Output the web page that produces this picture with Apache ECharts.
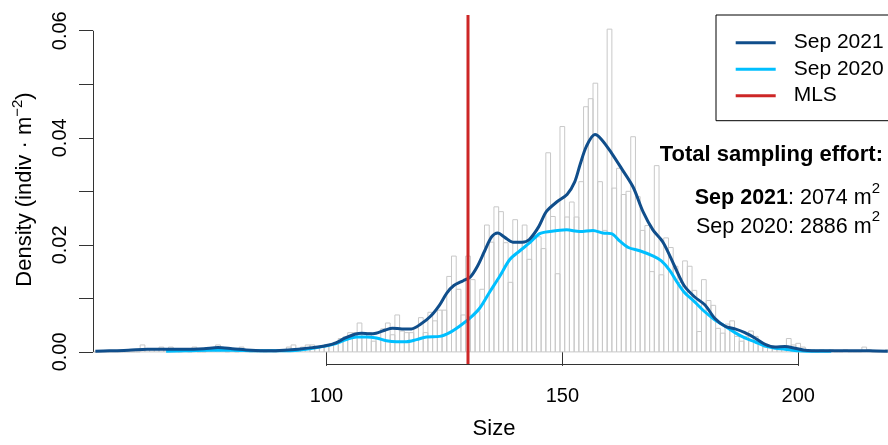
<!DOCTYPE html>
<html>
<head>
<meta charset="utf-8">
<script src="https://cdn.jsdelivr.net/npm/echarts@6/dist/echarts.min.js"></script>
<style>html,body{margin:0;padding:0;background:#fff}#c{width:888px;height:445px}</style>
</head>
<body>
<div id="c"></div>
<script>
// ---------- data ----------
const histStart = 51; // first bin centre (bins are 1 unit wide)
const histDensity = [
  0,0,0,0,0,0,0,0,0,0,                                   // 51-60
  0.0013,0.0004,0.0004,0.0004,0.0009,0.0004,0.0009,0.0004,0,0.0004, // 61-70
  0,0.0009,0,0,0.0004,0.0004,0.0013,0.0004,0,0.0004,     // 71-80
  0,0.0009,0.0004,0,0,0.0004,0,0.0004,0,0.0004,          // 81-90
  0.0004,0.0009,0.0013,0.0004,0.0009,0.0013,0.0013,0.0009,0.0009,0.0013, // 91-100
  0.0013,0.0018,0.0025,0.0028,0.0036,0.0036,0.0054,0.0036,0.0036,0.0020, // 101-110
  0.0027,0.0043,0.0054,0.0032,0.0069,0.0039,0.0036,0.0036,0.0045,0.0064, // 111-120
  0.0036,0.0074,0.0058,0.0078,0.0078,0.0141,0.0179,0.0117,0.0069,0.0179, // 121-130
  0.0135,0.0075,0.0117,0.0237,0.0205,0.0271,0.0262,0.0204,0.0130,0.0247, // 131-140
  0.0204,0.0237,0.0173,0.0216,0.0215,0.0193,0.0372,0.0253,0.0146,0.0421, // 141-150
  0.0252,0.0280,0.0252,0.0318,0.0458,0.0473,0.0502,0.0318,0.0227,0.0603, // 151-160
  0.0306,0.0343,0.0294,0.0300,0.0402,0.0290,0.0227,0.0236,0.0150,0.0348, // 161-170
  0.0144,0.0213,0.0195,0.0160,0.0130,0.0170,0.0160,0.0115,0.0038,0.0135, // 171-180
  0.0096,0.0087,0.0044,0.0035,0.0052,0.0058,0.0029,0.0020,0.0029,0.0039, // 181-190
  0.0029,0.0017,0.0009,0.0009,0.0009,0.0004,0.0009,0.0025,0.0013,0.0016, // 191-200
  0.0009,0.0004,0.0004,0,0.0004,0,0.0004,0,0,0.0004,     // 201-210
  0,0,0,0.0009,0.0004,0,0,0,0.0004                       // 211-219
];

const sizes2021 = [51,54,58,62,66,70,74,77,80,84,88,91,94,97,100,102,104,106,107.5,109,110.5,112.5,114,116,118,120,122,124,125.5,127,129,130.5,132,133.5,135,136.3,137.8,139.5,141.5,143,145,146.6,148.8,151,152.6,153.8,155.1,156.9,158.3,160.4,162.6,165,167.1,169.2,171.4,173.8,175.8,178,180.2,182.3,184.5,186.6,188.7,190.8,193,195.1,197.2,199.3,201.4,205,210,215,219];
const density2021 = [0.0001,0.0002,0.0003,0.0005,0.0005,0.0005,0.0006,0.0008,0.0006,0.0003,0.0002,0.0003,0.0005,0.0008,0.0012,0.0017,0.0026,0.0033,0.0035,0.0034,0.0035,0.0041,0.0044,0.0043,0.0043,0.0052,0.0066,0.0088,0.0110,0.0124,0.0133,0.0140,0.0160,0.0188,0.0215,0.0222,0.0214,0.0205,0.0205,0.0210,0.0234,0.0262,0.0280,0.0294,0.0317,0.0351,0.0384,0.0406,0.0397,0.0372,0.0342,0.0308,0.0262,0.0228,0.0204,0.0160,0.0124,0.0103,0.0088,0.0063,0.0048,0.0043,0.0036,0.0026,0.0014,0.0009,0.0010,0.0007,0.0003,0.0002,0.0002,0.0002,0.0001];

const sizes2020 = [66,70,75,80,85,90,94,98,101.4,104.2,106.4,108.5,110.6,112.7,114.8,116.9,119.1,121.2,124,126.1,128.2,130.4,132.5,134.6,136.7,138.9,141,143.1,145.2,147.4,150.9,153.7,156.5,158.6,160.4,162.2,164,166.4,169.3,171,172.8,174.2,175.8,178,180.2,182.3,184.5,186.6,188.7,190.8,193,195.1,197.2,200,204,207];
const density2020 = [0.0001,0.0002,0.0003,0.0003,0.0002,0.0002,0.0003,0.0008,0.0014,0.0023,0.0028,0.0028,0.0026,0.0021,0.0019,0.0019,0.0023,0.0028,0.0029,0.0036,0.0048,0.0063,0.0082,0.0112,0.0141,0.0173,0.0189,0.0204,0.0221,0.0225,0.0228,0.0225,0.0227,0.0222,0.0221,0.0207,0.0195,0.0189,0.0179,0.0170,0.0152,0.0132,0.0112,0.0094,0.0075,0.0060,0.0048,0.0036,0.0026,0.0019,0.0011,0.0007,0.0005,0.0002,0.0001,0.0001];

const mlsSize = 130;
const xTicks = [100, 150, 200];
const yTicks = [0, 0.01, 0.02, 0.03, 0.04, 0.05, 0.06];
const yLabels = [0, 0.02, 0.04, 0.06];
const legendNames = ['Sep 2021', 'Sep 2020', 'MLS'];

// ---------- chart ----------
const FONT = '"Liberation Sans", Arial, Helvetica, sans-serif';
const xMin = 50.5, xMax = 219.04, yMin = -0.00226, yMax = 0.06294;
const C2021 = '#104E8B', C2020 = '#00BFFF', CMLS = '#CD2626', AX = '#333';

const chart = echarts.init(document.getElementById('c'), null, {renderer: 'canvas'});

const option = {
  animation: false,
  backgroundColor: '#fff',
  textStyle: {fontFamily: FONT},
  grid: {left: 93, right: 0, top: 15, height: 355, containLabel: false},
  xAxis: {
    type: 'value', min: xMin, max: xMax,
    name: 'Size', nameLocation: 'middle', nameGap: 54,
    nameTextStyle: {fontSize: 22, color: '#000', fontFamily: FONT, padding: [0, 0, 0, 7]},
    axisLine: {show: false}, splitLine: {show: false},
    axisTick: {show: true, customValues: xTicks, length: 14, lineStyle: {color: AX, width: 1}},
    axisLabel: {show: true, customValues: xTicks, fontSize: 20, color: '#000', margin: 22, fontFamily: FONT}
  },
  yAxis: {
    type: 'value', min: yMin, max: yMax,
    name: '{n|Density (indiv · m}{s|−2}{n|)}', nameLocation: 'middle', nameRotate: 90, nameGap: 53,
    nameTextStyle: {color: '#000', fontFamily: FONT, rich: {
      n: {fontSize: 22, lineHeight: 30, fontFamily: FONT, color: '#000'},
      s: {fontSize: 15, lineHeight: 15, verticalAlign: 'top', fontFamily: FONT, color: '#000'}
    }},
    axisLine: {show: false}, splitLine: {show: false},
    axisTick: {show: true, customValues: yTicks, length: 14, lineStyle: {color: AX, width: 1}},
    axisLabel: {show: true, customValues: yLabels, rotate: 90, fontSize: 20, color: '#000', margin: 23,
      fontFamily: FONT, formatter: v => Number(v).toFixed(2)}
  },
  legend: {
    orient: 'vertical', left: 716, top: 15,
    icon: 'rect', itemWidth: 40, itemHeight: 3, itemGap: 5.5,
    padding: [17.2, 25, 14.5, 19.7],
    borderColor: '#000', borderWidth: 1, borderRadius: 0,
    backgroundColor: '#fff',
    textStyle: {fontSize: 21, color: '#000', fontFamily: FONT, lineHeight: 21, padding: [0, 0, 0, 13]},
    data: legendNames,
    selectedMode: false
  },
  graphic: [
    {type: 'text', x: 883, y: 155, z: 100,
      style: {text: 'Total sampling effort:', fontSize: 22, fontWeight: 'bold', fontFamily: FONT,
        fill: '#000', align: 'right', verticalAlign: 'middle'}},
    {type: 'text', x: 880, y: 198, z: 100,
      style: {text: '{b|Sep 2021}{n|: 2074 m}{s|2}', fontSize: 21.5, lineHeight: 34, fontFamily: FONT, fill: '#000',
        align: 'right', verticalAlign: 'middle',
        rich: {
          b: {fontSize: 21.5, fontWeight: 'bold', lineHeight: 34, fontFamily: FONT, fill: '#000'},
          n: {fontSize: 21.5, lineHeight: 34, fontFamily: FONT, fill: '#000'},
          s: {fontSize: 15, lineHeight: 15, verticalAlign: 'top', fontFamily: FONT, fill: '#000'}
        }}},
    {type: 'text', x: 880, y: 226.7, z: 100,
      style: {text: '{n|Sep 2020: 2886 m}{s|2}', fontSize: 21.5, lineHeight: 34, fontFamily: FONT, fill: '#000',
        align: 'right', verticalAlign: 'middle',
        rich: {
          n: {fontSize: 21.5, lineHeight: 34, fontFamily: FONT, fill: '#000'},
          s: {fontSize: 15, lineHeight: 15, verticalAlign: 'top', fontFamily: FONT, fill: '#000'}
        }}}
  ],
  series: [
    {
      name: 'hist', type: 'custom', z: 1, silent: true, clip: false,
      data: histDensity.map((h, i) => [histStart + i, h]),
      renderItem: function (params, api) {
        const x = api.value(0), h = api.value(1);
        const p0 = api.coord([x - 0.5, h]);
        const p1 = api.coord([x + 0.5, 0]);
        return {
          type: 'rect',
          shape: {x: p0[0], y: p0[1], width: p1[0] - p0[0], height: p1[1] - p0[1]},
          style: {fill: 'rgba(255,255,255,0)', stroke: '#c8c8c8', lineWidth: 1}
        };
      },
      markLine: {
        silent: true, symbol: 'none', animation: false,
        label: {show: false},
        lineStyle: {color: AX, width: 1, type: 'solid'},
        data: [
          [{coord: [xMin, yTicks[0]]}, {coord: [xMin, yTicks[yTicks.length - 1]]}],
          [{coord: [xTicks[0], yMin]}, {coord: [xTicks[xTicks.length - 1], yMin]}]
        ]
      }
    },
    {
      name: 'Sep 2020', type: 'line', z: 3, smooth: 0.3, showSymbol: false, symbol: 'none',
      color: C2020, lineStyle: {color: C2020, width: 3},
      data: sizes2020.map((s, i) => [s, density2020[i]])
    },
    {
      name: 'Sep 2021', type: 'line', z: 4, smooth: 0.3, showSymbol: false, symbol: 'none',
      color: C2021, lineStyle: {color: C2021, width: 3},
      data: sizes2021.map((s, i) => [s, density2021[i]])
    },
    {
      name: 'MLS', type: 'line', z: 5, showSymbol: false, symbol: 'none',
      color: CMLS, lineStyle: {color: CMLS, width: 3},
      data: [[mlsSize, yMin], [mlsSize, yMax]]
    }
  ]
};
chart.setOption(option);
</script>
</body>
</html>
